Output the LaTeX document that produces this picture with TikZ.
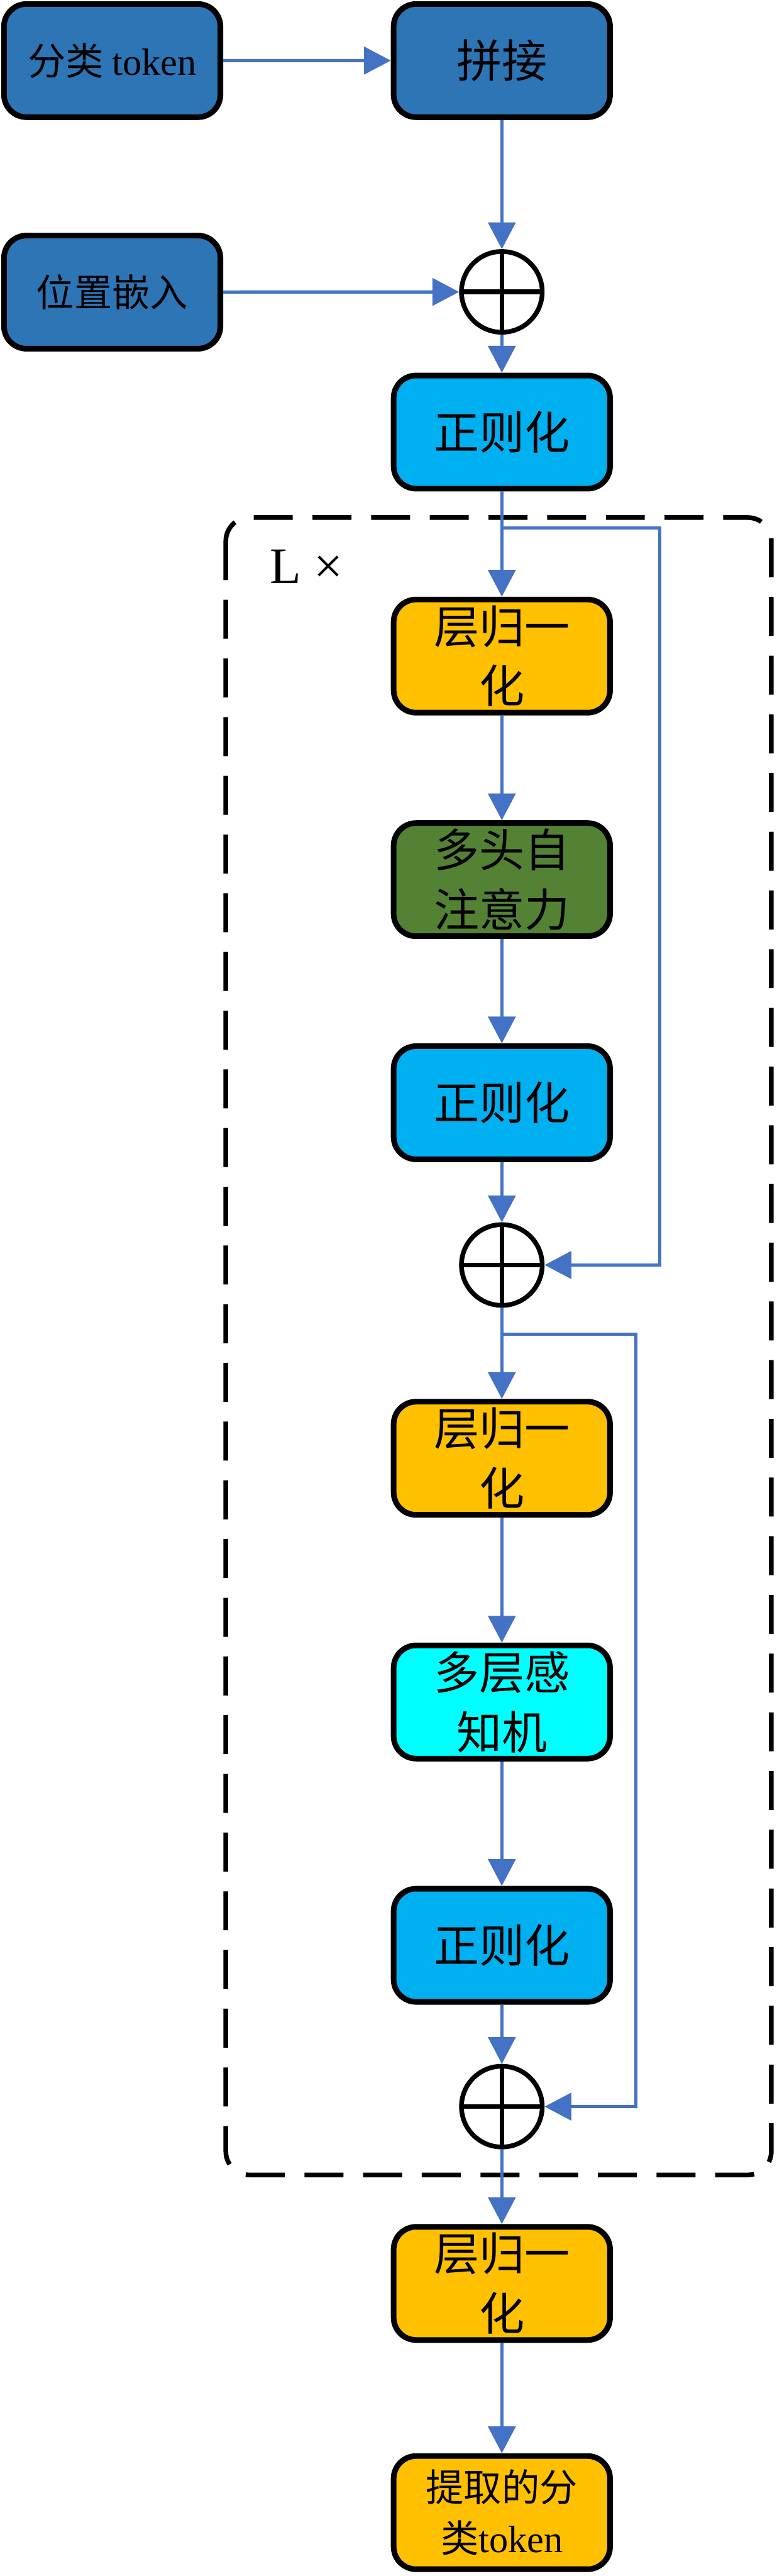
\documentclass[tikz,border=0pt]{standalone}
\usepackage{fontspec}
\setmainfont{Liberation Serif}
\newfontfamily\cjk{Noto Sans CJK SC}
\usepackage{tikz}
\usetikzlibrary{arrows.meta, positioning}
\definecolor{embblue}{RGB}{46,117,182}
\definecolor{normblue}{RGB}{0,176,240}
\definecolor{lnorange}{RGB}{255,192,0}
\definecolor{attgreen}{RGB}{84,130,53}
\definecolor{mlpcyan}{RGB}{0,255,255}
\definecolor{linkblue}{RGB}{68,114,196}
\newcommand{\boxfont}{\fontsize{27.5}{36}\selectfont}
\newcommand{\smallboxfont}{\fontsize{23}{31}\selectfont}
\tikzset{
    blkbox/.style={rectangle, rounded corners=0.48cm, draw=black, line width=0.12cm,
                   align=center, minimum width=4.61cm, minimum height=2.41cm,
                   inner sep=0pt, font=\boxfont\cjk},
    embbox/.style={blkbox, fill=embblue},
    normbox/.style={blkbox, fill=normblue},
    lnbox/.style={blkbox, fill=lnorange},
    attbox/.style={blkbox, fill=attgreen},
    mlpbox/.style={blkbox, fill=mlpcyan},
    addop/.style={circle, draw=black, line width=0.1cm, minimum size=1.72cm, inner sep=0pt,
                  path picture={\draw[line width=0.1cm]
                      (path picture bounding box.north) -- (path picture bounding box.south)
                      (path picture bounding box.west) -- (path picture bounding box.east);}},
    arrow/.style={-{Triangle[length=0.57cm, width=0.58cm]}, line width=0.07cm, draw=linkblue},
    loopframe/.style={draw=black, line width=0.1cm, dash pattern=on 0.83cm off 0.42cm,
                      rounded corners=0.5cm},
}

\begin{document}
\begin{tikzpicture}
    \useasboundingbox (0,0) rectangle (16.55,-54.85);
    % repeated encoder block
    \draw[loopframe] (4.81,-11.02) rectangle (16.43,-46.31);
    \node[anchor=base west, font=\fontsize{31}{37}\selectfont] (reps) at (5.63,-12.42) {L ×};

    % inputs
    \node[embbox, font=\smallboxfont\cjk] (cls) at (2.39,-1.29) {分类 {\rmfamily token}};
    \node[embbox, right=3.57cm of cls] (concat) {拼接};
    \node[embbox, font=\smallboxfont\cjk, below=2.40cm of cls] (pos) {位置嵌入};
    \node[addop, below=2.75cm of concat] (add0) {};
    \node[normbox, below=0.81cm of add0] (norm0) {正则化};

    % encoder
    \node[lnbox, below=2.24cm of norm0] (ln1) {层归一\\化};
    \node[attbox, below=2.23cm of ln1] (mhsa) {多头自\\注意力};
    \node[normbox, below=2.22cm of mhsa] (norm1) {正则化};
    \node[addop, below=1.28cm of norm1] (add1) {};
    \node[lnbox, below=1.94cm of add1] (ln2) {层归一\\化};
    \node[mlpbox, below=2.66cm of ln2] (mlp) {多层感\\知机};
    \node[normbox, below=2.65cm of mlp] (norm2) {正则化};
    \node[addop, below=1.26cm of norm2] (add2) {};

    % head
    \node[lnbox, below=1.59cm of add2] (ln3) {层归一\\化};
    \node[lnbox, font=\smallboxfont\cjk, below=2.35cm of ln3] (clsout) {提取的分\\类{\rmfamily token}};

    \coordinate[below=0.78cm of norm0] (fork1);
    \coordinate[below=0.56cm of add1] (fork2);

    \draw[arrow] (cls) -- (concat);
    \draw[arrow] (concat) -- (add0);
    \draw[arrow] (pos) -- (add0);
    \draw[arrow] (add0) -- (norm0);
    \draw[arrow] (norm0) -- (ln1);
    \draw[arrow] (ln1) -- (mhsa);
    \draw[arrow] (mhsa) -- (norm1);
    \draw[arrow] (norm1) -- (add1);
    \draw[arrow] (fork1) -- ++(3.36,0) |- (add1);
    \draw[arrow] (add1) -- (ln2);
    \draw[arrow] (ln2) -- (mlp);
    \draw[arrow] (mlp) -- (norm2);
    \draw[arrow] (norm2) -- (add2);
    \draw[arrow] (fork2) -- ++(2.85,0) |- (add2);
    \draw[arrow] (add2) -- (ln3);
    \draw[arrow] (ln3) -- (clsout);
\end{tikzpicture}
\end{document}
